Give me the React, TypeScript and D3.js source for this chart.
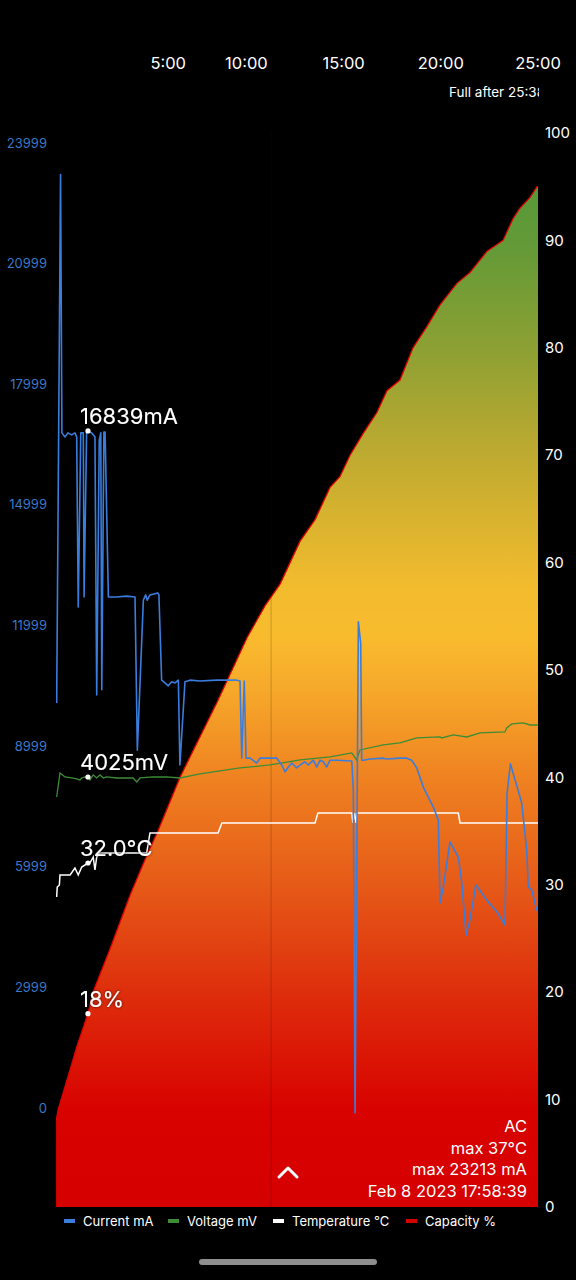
import React from "react";
import * as d3 from "d3";

// ---------- data ----------
const timeTicks = [5, 10, 15, 20, 25];
const timeTickLabels = ["5:00", "10:00", "15:00", "20:00", "25:00"];
const leftTicks = [0, 2999, 5999, 8999, 11999, 14999, 17999, 20999, 23999];
const rightTicks = [0, 10, 20, 30, 40, 50, 60, 70, 80, 90, 100];

const currentT = [0.24, 0.44, 0.51, 0.67, 0.82, 1.01, 1.18, 1.27, 1.35, 1.48, 1.61, 1.65, 1.78, 1.85, 2.04, 2.21, 2.3, 2.43, 2.51, 2.56, 2.67, 2.73, 2.9, 3.33, 3.84, 4.27, 4.39, 4.7, 4.82, 4.9, 5.04, 5.44, 5.5, 5.64, 5.81, 5.98, 6.16, 6.33, 6.5, 6.58, 6.84, 7.1, 7.61, 8.47, 9.5, 9.67, 9.76, 9.89, 9.98, 10.19, 10.53, 10.7, 11.56, 11.82, 11.99, 12.16, 12.33, 12.59, 12.76, 13.01, 13.18, 13.44, 13.62, 13.79, 13.96, 14.13, 14.3, 14.65, 15.42, 15.5, 15.59, 15.76, 15.88, 15.93, 16.01, 16.36, 17.04, 17.22, 17.9, 18.25, 18.5, 18.76, 19.1, 19.61, 19.87, 19.96, 20.13, 20.47, 20.9, 21.08, 21.3, 21.5, 21.8, 22.36, 22.88, 23.3, 23.41, 23.58, 23.82, 24.16, 24.42, 24.5, 24.68, 24.93, 25.0];
const currentMA = [10070, 23213, 16790, 16690, 16790, 16740, 16790, 16690, 12460, 16790, 16790, 12710, 16790, 16839, 16790, 16690, 10270, 16610, 16790, 10400, 16810, 16810, 12710, 12710, 12730, 12710, 8900, 12630, 12760, 12630, 12760, 12810, 12760, 10640, 10570, 10500, 10600, 10570, 10640, 8530, 10600, 10640, 10620, 10640, 10640, 10620, 8700, 10620, 8700, 8700, 8580, 8700, 8700, 8530, 8360, 8480, 8580, 8460, 8530, 8610, 8530, 8650, 8480, 8650, 8610, 8480, 8650, 8650, 8630, 7910, -120, 12090, 11560, 8650, 8650, 8680, 8700, 8680, 8700, 8700, 8650, 8460, 7980, 7490, 7160, 5100, 5500, 6620, 6240, 5600, 4300, 4680, 5550, 5170, 4880, 4550, 7830, 8560, 8160, 7590, 6420, 5500, 5420, 4920, 4900];

const voltT = [0.24, 0.41, 0.67, 1.01, 1.27, 1.44, 1.53, 1.7, 1.85, 1.95, 2.12, 2.3, 2.47, 2.64, 2.81, 3.33, 4.17, 4.36, 4.53, 5.21, 5.9, 6.58, 7.61, 9.67, 11.21, 12.76, 14.3, 15.42, 15.67, 15.84, 17.04, 17.9, 18.76, 19.96, 20.04, 20.64, 21.33, 22.02, 23.3, 23.39, 23.65, 24.24, 24.59, 25.0];
const voltMV = [3865, 4057, 4025, 4017, 4009, 4001, 4017, 4025, 4025, 4001, 4041, 4017, 4041, 4017, 4025, 4017, 4017, 3985, 4017, 4025, 4025, 4017, 4049, 4097, 4121, 4161, 4185, 4217, 4161, 4241, 4281, 4297, 4337, 4345, 4337, 4361, 4345, 4377, 4385, 4417, 4449, 4457, 4441, 4441];

const tempT = [0.24, 0.27, 0.38, 0.41, 0.67, 0.93, 1.18, 1.35, 1.53, 1.85, 1.95, 2.12, 2.21, 2.3, 2.47, 4.87, 5.04, 8.54, 8.74, 13.53, 13.68, 15.42, 15.48, 15.56, 15.64, 15.69, 20.9, 20.99, 25.0];
const tempC = [28.6, 29.6, 29.8, 30.8, 30.8, 30.8, 31.5, 30.8, 31.6, 32.0, 32.0, 32.6, 31.3, 32.6, 33.0, 33.0, 35.0, 35.0, 36.0, 36.0, 37.0, 37.0, 36.0, 37.0, 36.0, 37.0, 37.0, 36.0, 36.0];

const capT = [0.21, 0.31, 1.29, 1.85, 2.11, 2.98, 4.01, 4.94, 5.45, 6.58, 8.49, 10.03, 10.96, 11.73, 12.76, 13.53, 14.3, 14.81, 15.33, 16.0, 16.72, 17.23, 17.9, 18.57, 19.29, 19.96, 20.83, 21.5, 22.38, 23.2, 23.71, 24.07, 24.59, 24.95, 25.0];
const capPct = [8, 9, 15, 18, 20, 24, 29, 33, 35, 40, 47, 53, 56, 58, 62, 64, 67, 68, 70, 72, 74, 76, 77, 80, 82, 84, 86, 87, 89, 90, 92, 93, 94, 95, 95];

const markerTime = 1.85;
const markerCurrent = 16839;
const markerVoltage = 4025;
const markerTemp = 32.0;
const markerCap = 18;
const markerLabels = ["16839mA", "4025mV", "32.0°C", "18%"];
const highlightTime = 11.27;

const legendLabels = ["Current mA", "Voltage mV", "Temperature °C", "Capacity %"];
const legendColors = ["#3b7ddd", "#3d8c36", "#ffffff", "#d50000"];
const infoLines = ["AC", "max 37°C", "max 23213 mA", "Feb 8 2023 17:58:39"];
const fullAfterLabel = "Full after 25:38";

// ---------- layout ----------
const W = 576;
const H = 1280;
const plotL = 56;
const plotR = 538;
const plotT = 133;
const plotB = 1207;
const FONT = "Inter, 'Open Sans', sans-serif";
const C_CUR = legendColors[0];
const C_VOLT = legendColors[1];

type P = { t: number; v: number };
const zip = (a: number[], b: number[]): P[] => a.map((t, i) => ({ t, v: b[i] }));

export default function App() {
  const x = d3.scaleLinear().domain([0, 25]).range([52, 538]);
  const yLeft = d3.scaleLinear().domain([0, 23999]).range([1108, 143]);
  const yRight = d3.scaleLinear().domain([0, 100]).range([plotB, plotT]);
  const yVolt = d3.scaleLinear().domain([3500, 4600]).range([842.6, 705.1]);
  const yTemp = d3.scaleLinear().domain([25, 40]).range([933, 783]);

  const cur = zip(currentT, currentMA);
  const volt = zip(voltT, voltMV);
  const temp = zip(tempT, tempC);
  const cap = zip(capT, capPct);

  const lineOf = (ys: d3.ScaleLinear<number, number>) =>
    d3.line<P>().x((d) => x(d.t)).y((d) => ys(d.v));
  const capArea = d3
    .area<P>()
    .x((d) => x(d.t))
    .y0(yRight(0))
    .y1((d) => yRight(d.v));

  const mx = x(markerTime);
  const markers = [
    { y: yLeft(markerCurrent), label: markerLabels[0] },
    { y: yVolt(markerVoltage), label: markerLabels[1] },
    { y: yTemp(markerTemp), label: markerLabels[2] },
    { y: yRight(markerCap), label: markerLabels[3] },
  ];

  const legendX = [64, 168, 273, 406];

  return (
    <>
      <style>{"html,body{margin:0;padding:0;background:#000}"}</style>
      <svg width={W} height={H} style={{ display: "block", background: "#000" }} fontFamily={FONT}>
        <defs>
          <linearGradient id="capGrad" gradientUnits="userSpaceOnUse" x1={0} y1={plotB} x2={0} y2={plotT}>
            <stop offset="0" stopColor="#d50000" />
            <stop offset="0.09" stopColor="#d80200" />
            <stop offset="0.2" stopColor="#de2e0c" />
            <stop offset="0.3" stopColor="#e65a18" />
            <stop offset="0.4" stopColor="#ef8221" />
            <stop offset="0.48" stopColor="#f6a82a" />
            <stop offset="0.53" stopColor="#f9bb2e" />
            <stop offset="0.58" stopColor="#f2bb2e" />
            <stop offset="0.66" stopColor="#d0b02f" />
            <stop offset="0.72" stopColor="#b5a831" />
            <stop offset="0.8" stopColor="#8ca033" />
            <stop offset="0.89" stopColor="#659a37" />
            <stop offset="1" stopColor="#4c963b" />
          </linearGradient>
          <clipPath id="plotClip">
            <rect x={plotL} y={plotT} width={plotR - plotL} height={plotB - plotT} />
          </clipPath>
          <clipPath id="fullClip">
            <rect x={0} y={70} width={539} height={40} />
          </clipPath>
          <filter id="shadow" x="-20%" y="-50%" width="140%" height="200%">
            <feDropShadow dx="0" dy="0" stdDeviation="1.6" floodColor="#000" floodOpacity="0.75" />
          </filter>
        </defs>

        {/* top time ticks */}
        {timeTicks.map((t, i) => (
          <text
            key={t}
            x={x(t) + (i === 0 ? 19 : 0)}
            y={69}
            fill="#fff"
            fontSize={16.5}
            textAnchor="middle"
          >
            {timeTickLabels[i]}
          </text>
        ))}
        <text x={449} y={97} fill="#fff" fontSize={13.5} clipPath="url(#fullClip)">
          {fullAfterLabel}
        </text>

        {/* left axis */}
        {leftTicks.map((v) => (
          <text key={v} x={47} y={yLeft(v)} dy="0.35em" fill="#3a78c9" fontSize={13} textAnchor="end">
            {v}
          </text>
        ))}
        {/* right axis */}
        {rightTicks.map((v) => (
          <text key={v} x={545} y={yRight(v)} dy="0.35em" fill="#fff" fontSize={15}>
            {v}
          </text>
        ))}

        <g clipPath="url(#plotClip)">
          <path d={capArea(cap) || ""} fill="url(#capGrad)" />
          <path d={lineOf(yRight)(cap) || ""} fill="none" stroke="#e00000" strokeWidth={1.3} />
          <line
            x1={x(highlightTime)}
            x2={x(highlightTime)}
            y1={plotT}
            y2={plotB}
            stroke="rgba(40,20,10,0.22)"
            strokeWidth={1}
          />
          <path d={lineOf(yTemp)(temp) || ""} fill="none" stroke="#fff" strokeWidth={1.5} />
          <path d={lineOf(yVolt)(volt) || ""} fill="none" stroke={C_VOLT} strokeWidth={1.3} />
          <path d={lineOf(yLeft)(cur) || ""} fill="none" stroke={C_CUR} strokeWidth={1.6} strokeLinejoin="round" />
        </g>

        {/* markers */}
        {markers.map((m) => (
          <g key={m.label}>
            <circle cx={mx} cy={m.y} r={2.6} fill="#fff" />
            <text x={mx - 8} y={m.y - 7} fill="#fff" fontSize={22} filter="url(#shadow)">
              {m.label}
            </text>
          </g>
        ))}

        {/* info box */}
        {infoLines.map((s, i) => (
          <text key={s} x={527} y={1132 + i * 21.5} fill="#fff" fontSize={16.5} textAnchor="end">
            {s}
          </text>
        ))}
        <path d="M279,1177 L288,1168 L297,1177" fill="none" stroke="#fff" strokeWidth={3} strokeLinecap="round" strokeLinejoin="round" />

        {/* legend */}
        {legendLabels.map((s, i) => (
          <g key={s}>
            <rect x={legendX[i]} y={1219} width={11} height={4} fill={legendColors[i]} />
            <text x={legendX[i] + 19} y={1226} fill="#fff" fontSize={13}>
              {s}
            </text>
          </g>
        ))}

        {/* home indicator */}
        <rect x={199} y={1259} width={178} height={6} rx={3} fill="#8e8e8e" />
      </svg>
    </>
  );
}
